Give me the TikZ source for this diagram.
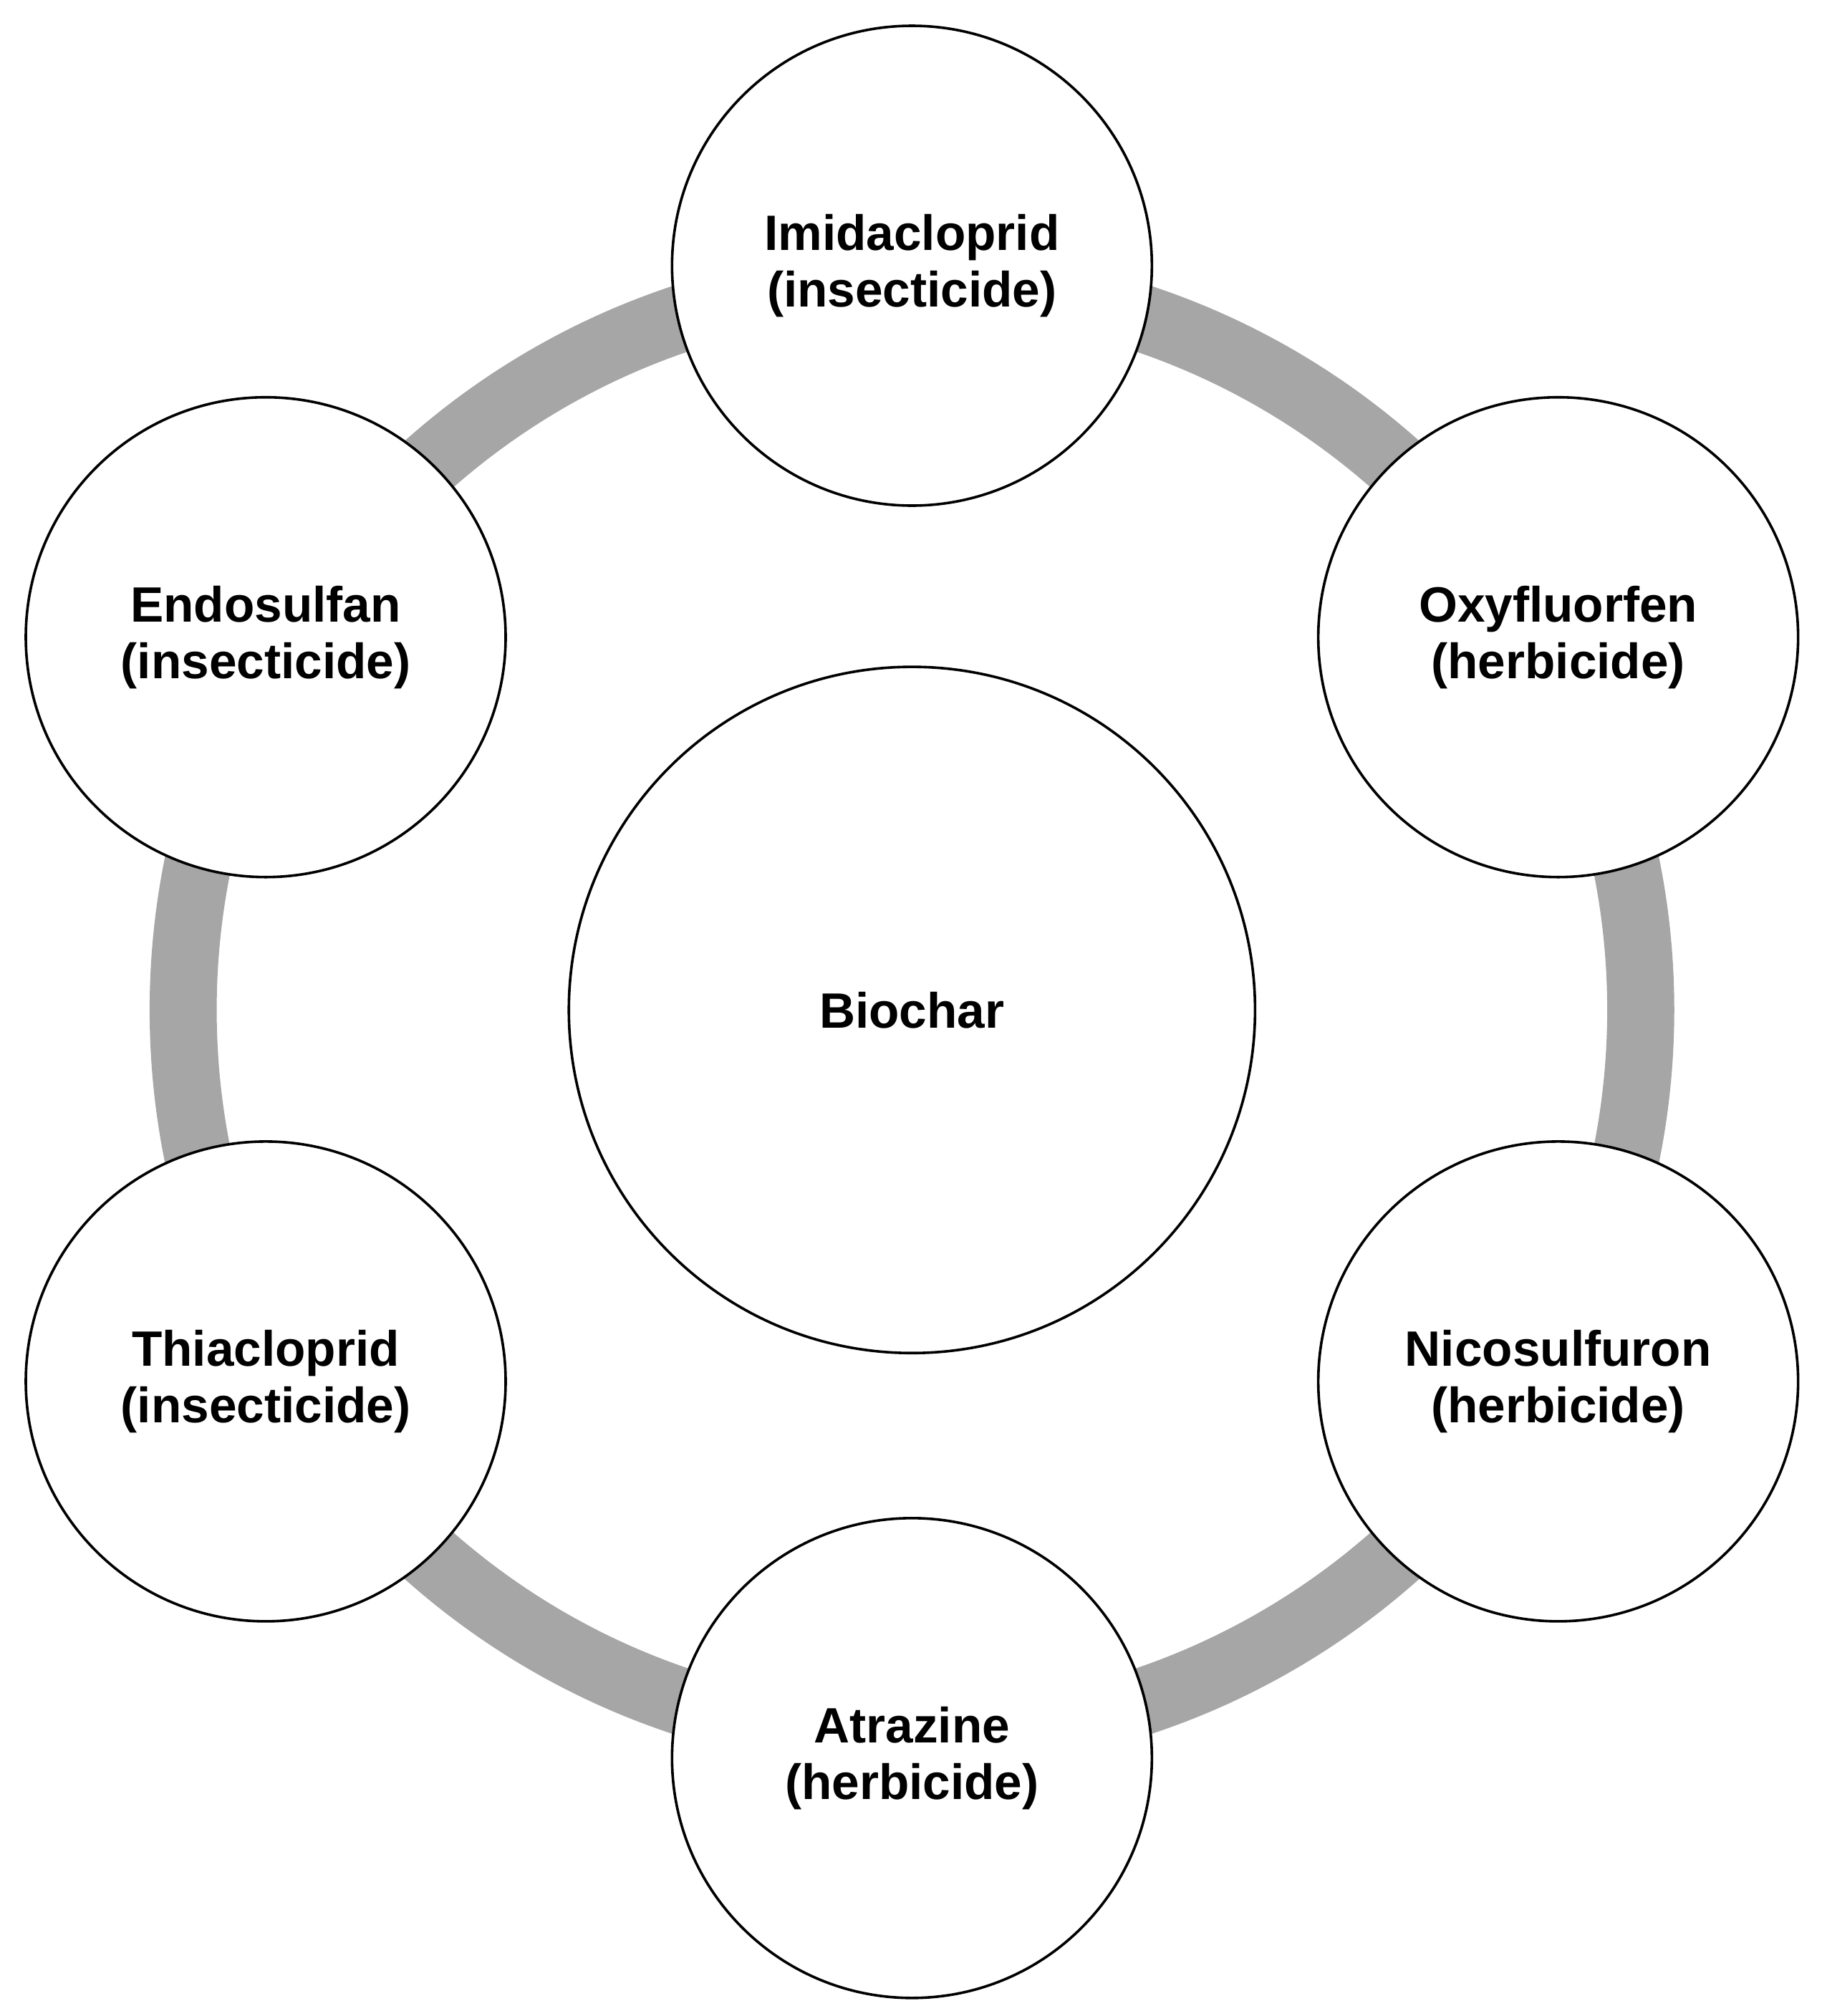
\documentclass[tikz,border=0pt]{standalone}
\usepackage{fontspec}
\setmainfont{Liberation Sans}
\begin{document}
\begin{tikzpicture}[x=1pt,y=-1pt,
  pest/.style={circle,draw=black,line width=2pt,fill=white,minimum size=372pt,inner sep=0pt,align=center,font=\fontsize{38.5}{44}\selectfont\bfseries},
  core/.style={pest,minimum size=532pt}]
\useasboundingbox (0,0) rectangle (1412,1563);
\coordinate (c) at (707,783);
\draw[line width=52pt,color={rgb,255:red,166;green,166;blue,166}] (c) circle[radius=565];
\node[core] (bio) at (c) {Biochar};
\node[pest] (imi) at (707,206) {Imidacloprid\\(insecticide)};
\node[pest] (oxy) at (1208,494) {Oxyfluorfen\\(herbicide)};
\node[pest] (nic) at (1208,1071) {Nicosulfuron\\(herbicide)};
\node[pest] (atr) at (707,1363) {Atrazine\\(herbicide)};
\node[pest] (thi) at (206,1071) {Thiacloprid\\(insecticide)};
\node[pest] (end) at (206,494) {Endosulfan\\(insecticide)};
\end{tikzpicture}
\end{document}
